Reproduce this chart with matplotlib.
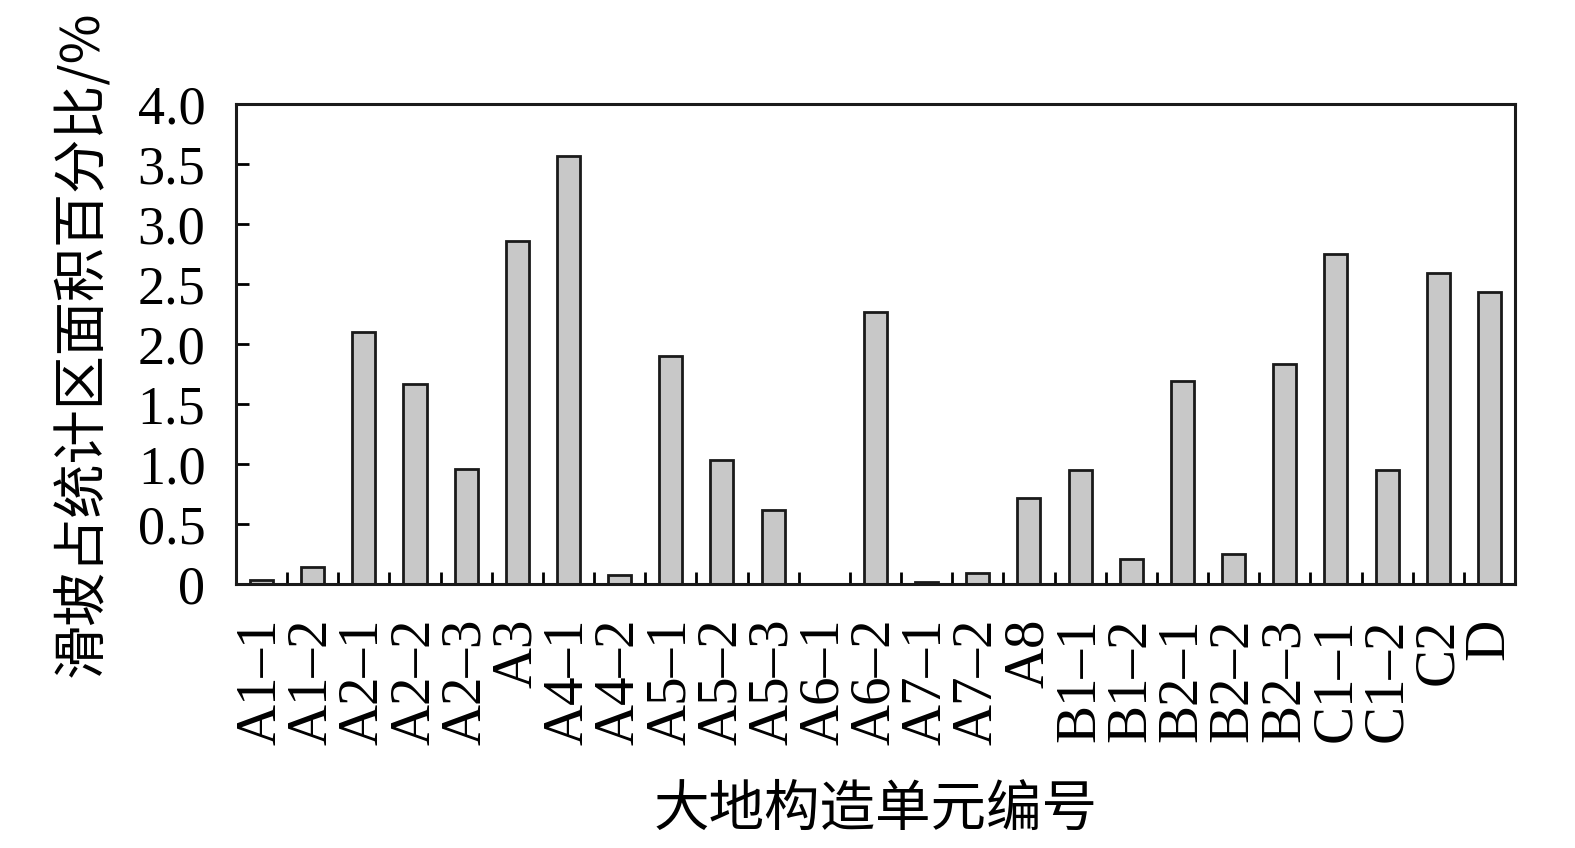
import numpy as np
import matplotlib.pyplot as plt

units = ["A1–1", "A1–2", "A2–1", "A2–2", "A2–3", "A3", "A4–1", "A4–2",
         "A5–1", "A5–2", "A5–3", "A6–1", "A6–2", "A7–1", "A7–2", "A8",
         "B1–1", "B1–2", "B2–1", "B2–2", "B2–3", "C1–1", "C1–2", "C2", "D"]
ratio = [0.03, 0.14, 2.10, 1.67, 0.96, 2.86, 3.57, 0.075,
         1.90, 1.03, 0.62, 0.0, 2.27, 0.02, 0.09, 0.72,
         0.95, 0.21, 1.69, 0.25, 1.83, 2.75, 0.95, 2.59, 2.43]
yticks = [0, 0.5, 1.0, 1.5, 2.0, 2.5, 3.0, 3.5, 4.0]
ytick_labels = ["0", "0.5", "1.0", "1.5", "2.0", "2.5", "3.0", "3.5", "4.0"]

plt.rcParams['font.family'] = ['Liberation Serif', 'Noto Sans CJK SC']
cjk = ['Noto Sans CJK SC', 'Liberation Serif']

fig = plt.figure(figsize=(15.75, 8.48), dpi=100)
ax = fig.add_axes([0.1498, 0.3113, 0.8121, 0.5661])

x = np.arange(len(units))
ax.bar(x, ratio, width=0.45, color="#c8c8c8", edgecolor="#1a1a1a", linewidth=2)

ax.set_xlim(-0.5, len(units) - 0.5)
ax.set_ylim(0, 4.0)
ax.set_yticks(yticks)
ax.set_yticklabels(ytick_labels, fontsize=39)
ax.set_xticks(x)
ax.set_xticklabels(units, rotation=90, fontsize=41, va="top", ha="center")
ax.set_xticks(np.arange(0.5, len(units) - 0.5, 1), minor=True)

ax.tick_params(axis="y", direction="in", length=9, width=2, pad=22)
ax.tick_params(axis="x", which="major", length=0, pad=25)
ax.tick_params(axis="x", which="minor", direction="in", length=9, width=2)
for s in ax.spines.values():
    s.set_linewidth(2.2)
    s.set_color("#1a1a1a")

ax.set_ylabel("滑坡占统计区面积百分比/%", fontsize=39, family=cjk, labelpad=20)
ax.set_xlabel("大地构造单元编号", fontsize=40, family=cjk, labelpad=26)

fig.savefig("out.png", dpi=100)
